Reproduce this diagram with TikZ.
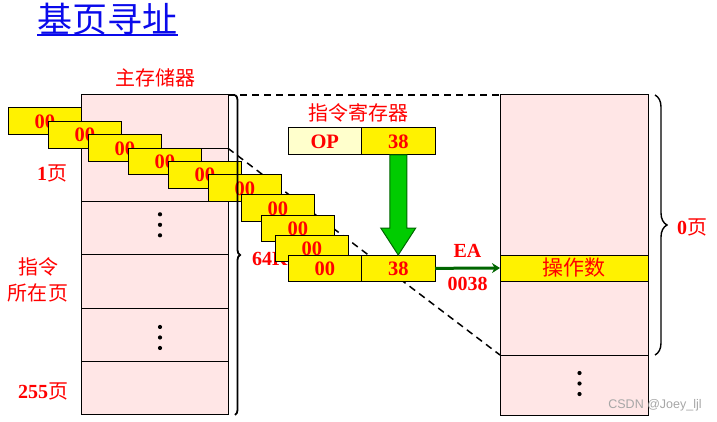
\documentclass[tikz,border=0pt]{standalone}
\usepackage{fontspec}
\setmainfont{Liberation Serif}
\setsansfont{Liberation Sans}
\newfontfamily\cjk{Noto Sans CJK SC}
\usetikzlibrary{calc, arrows.meta, decorations.pathreplacing}
\definecolor{memfill}{RGB}{255,230,230}
\definecolor{opfill}{RGB}{255,255,204}
\definecolor{bigarrowfill}{RGB}{0,204,0}
\definecolor{eagreen}{RGB}{0,102,0}
\definecolor{titleblue}{RGB}{10,10,235}
\def\rowh{53.33}
\tikzset{mem/.style={draw, line width=1pt, fill=memfill, minimum width=147pt, inner sep=0pt, outer sep=0pt, anchor=north west}}
\tikzset{word/.style={draw, line width=1pt, fill=yellow, minimum width=73.5pt, minimum height=26.7pt, inner sep=0pt, outer sep=0pt, anchor=north west, text=red, font=\bfseries\fontsize{20.5}{20.5}\selectfont}}
\tikzset{lbl/.style={text=red, inner sep=0pt, font=\bfseries\fontsize{20}{22}\selectfont}}
\tikzset{cjklbl/.style={text=red, inner sep=0pt, font=\cjk\fontsize{20}{26}\selectfont}}
\tikzset{guide/.style={dash pattern=on 7pt off 5pt, line width=1.5pt}}
\tikzset{pagebrace/.style={decorate, decoration={brace, amplitude=#1}, line width=1.8pt}}
\tikzset{bigarrow/.style={draw=eagreen, line width=1pt, fill=bigarrowfill}}
\tikzset{eaarrow/.style={draw=eagreen, line width=3pt, -{Stealth[length=8pt, width=10pt]}}}

\begin{document}
\begin{tikzpicture}[x=1pt, y=-1pt]
        \useasboundingbox (0,0) rectangle (717,422);
        % Title
        \node[text=titleblue, inner sep=0pt, font=\cjk\fontsize{35}{35}\selectfont] (title) at (107.5,19) {基页寻址};
        \draw[titleblue, line width=1.7pt] (title.south west) -- (title.south east);
        % Main memory, left
        \foreach \i in {0,...,5} {
          \node[mem, minimum height=\rowh pt] (m\i) at (81,{95+\rowh*\i}) {};
        }
        % Page 0, right
        \node[mem, minimum width=148pt, minimum height=160pt] (r0) at (500,95) {};
        \node[mem, minimum width=148pt, minimum height=26pt, fill=yellow, text=red, font=\cjk\fontsize{21}{21}\selectfont] (r1) at (500,255) {操作数};
        \node[mem, minimum width=148pt, minimum height=74pt] (r2) at (500,281) {};
        \node[mem, minimum width=148pt, minimum height=60pt] (r3) at (500,355) {};
        % Dots
        \foreach \n/\dy in {m2/-14, m4/-8, r3/-12} {
          \foreach \k in {0,1,2} {
            \fill ($(\n.center)+(5.5,{\dy+10.5*\k})$) circle (2.1pt);
          }
        }
        % Dashed guides to page 0
        \draw[guide] (m0.north east) -- (r0.north west);
        \draw[guide] (m1.north east) -- (r2.south west);
        % Labels
        \node[cjklbl] (mainmem) at (155,78) {主存储器};
        \node[cjklbl] (irlbl) at (358,113) {指令寄存器};
        \node[lbl] (p1) at (52,173) {1{\cjk\mdseries 页}};
        \node[cjklbl, align=center] (inspage) at (38,280) {指令\\所在页};
        \node[lbl] (p255) at (43,391) {255{\cjk\mdseries 页}};
        \node[lbl] (k64) at (270,259) {64K};
        \node[lbl] (p0) at (692,227) {0{\cjk\mdseries 页}};
        % Stack of words
        \foreach \bx/\by [count=\k] in {8/108, 48/121.5, 88/135, 128/148.3, 168/161.7, 208/175, 241/195, 261/215, 275/235} {
          \node[word] (w\k) at (\bx,\by) {00};
        }
        \node[word] (ea00) at (288,255) {00};
        \node[word, anchor=west] (ea38) at (ea00.east) {38};
        % Instruction register
        \node[word, fill=opfill, minimum height=27pt] (op) at (288,128) {OP};
        \node[word, minimum height=27pt, anchor=west] (ad) at (op.east) {38};
        % Braces
        \draw[pagebrace=5pt] ($(m0.north east)+(7,0)$) -- ($(m5.south east)+(7,0)$);
        \draw[pagebrace=12pt, line width=1.4pt] ($(r0.north east)+(7,0)$) -- ($(r2.south east)+(7,0)$);
        % Address goes down
        \draw[bigarrow] ($(ad.south)+(-8.5,0)$) -- ++(0,73) -- ++(-9,0) -- (ea38.north)
          -- ++(17.5,-27) -- ++(-9,0) -- ($(ad.south)+(8.5,0)$) -- cycle;
        \draw[eaarrow] (ea38.east) -- node[lbl, above=9pt] (ealbl) {EA} node[lbl, below=8pt] (eaval) {0038} (r1.west);
        % Watermark
        \node[text=gray!70, inner sep=0pt, font=\sffamily\fontsize{12.5}{12.5}\selectfont] (mark) at (655,405) {CSDN @Joey\_ljl};
\end{tikzpicture}
\end{document}
